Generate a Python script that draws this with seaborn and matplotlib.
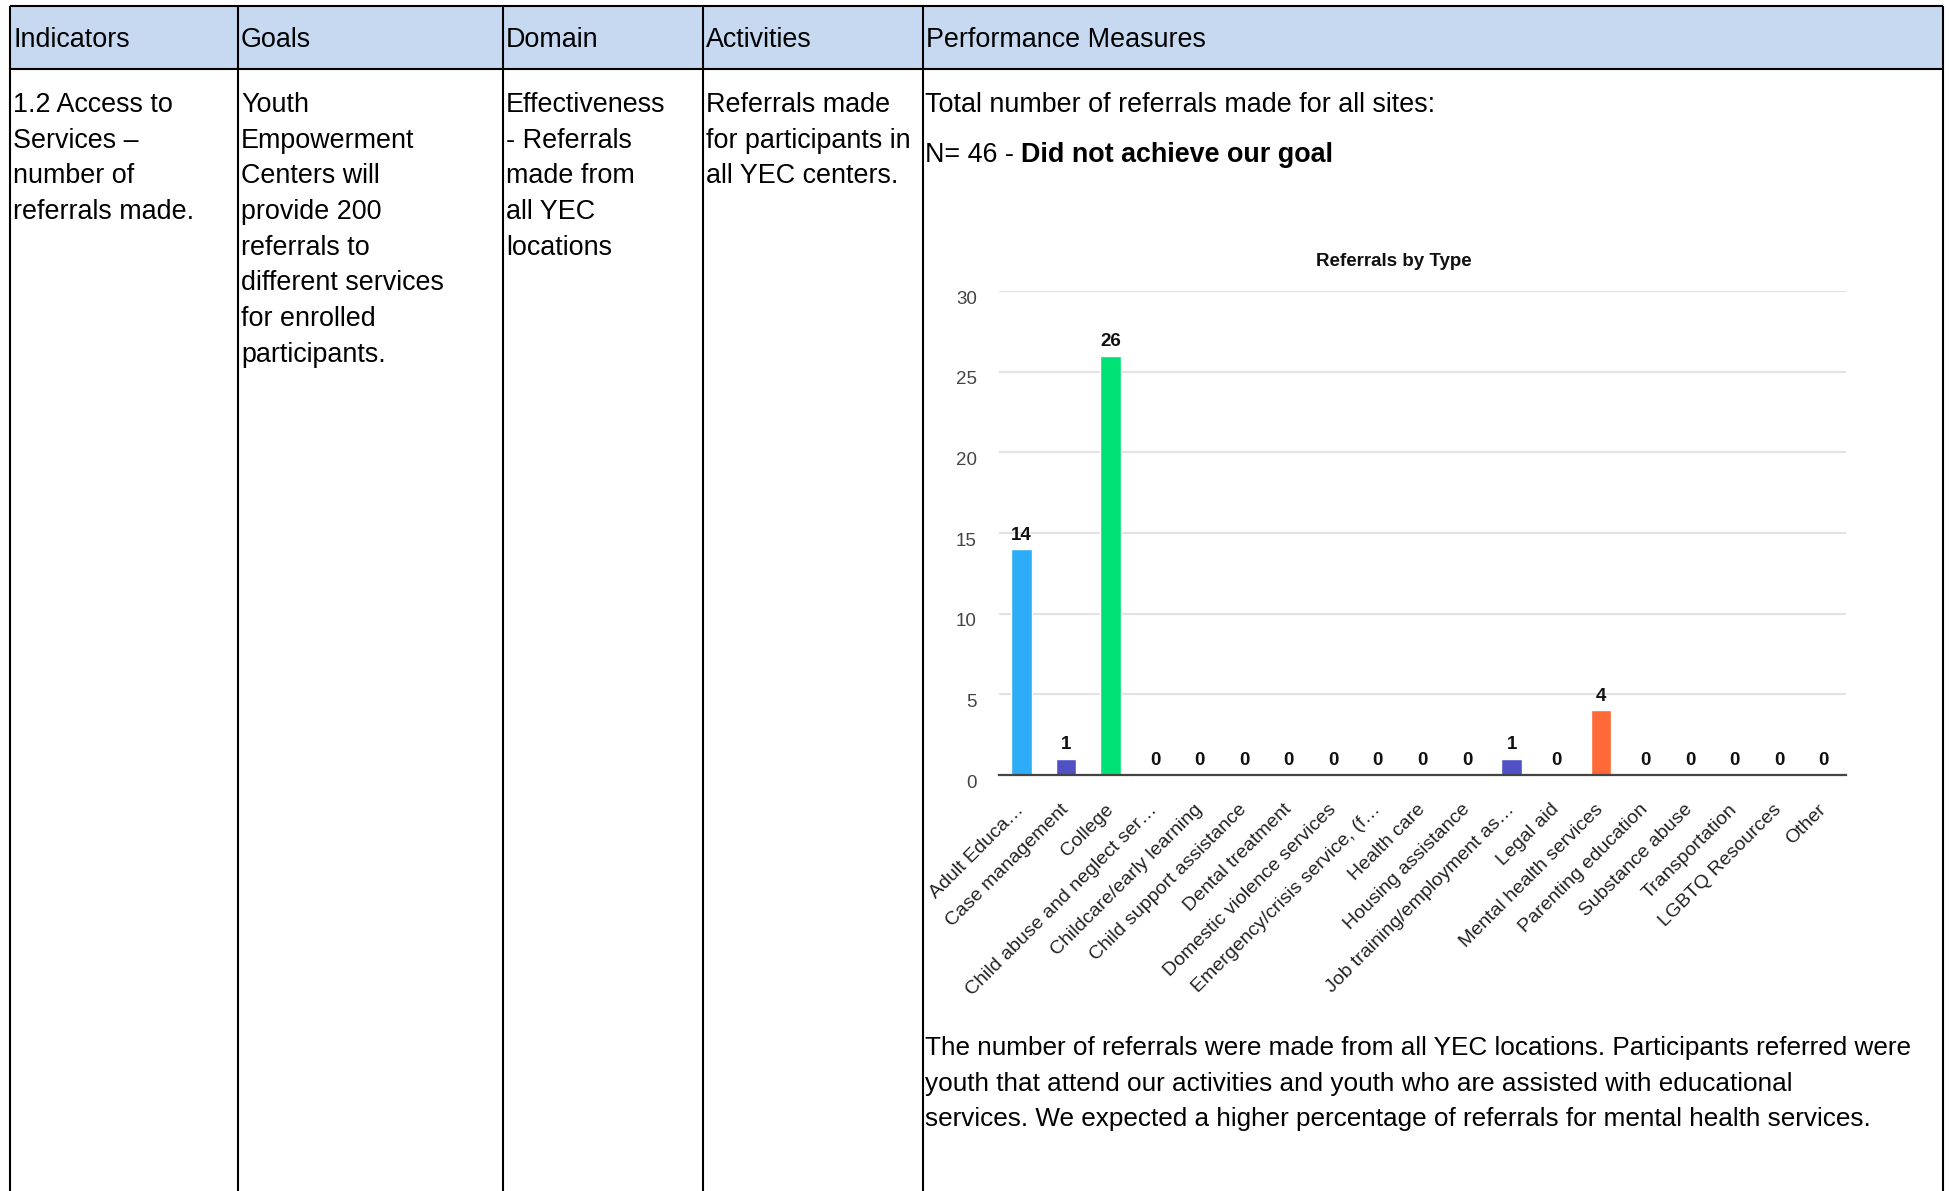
import matplotlib
matplotlib.use("Agg")
import matplotlib.pyplot as plt
import matplotlib.transforms as mtransforms
from matplotlib.patches import Rectangle
import seaborn as sns

# --- chart data ---
categories = [
    "Adult Educa…", "Case management", "College", "Child abuse and neglect ser…",
    "Childcare/early learning", "Child support assistance", "Dental treatment",
    "Domestic violence services", "Emergency/crisis service, (f…", "Health care",
    "Housing assistance", "Job training/employment as…", "Legal aid",
    "Mental health services", "Parenting education", "Substance abuse",
    "Transportation", "LGBTQ Resources", "Other",
]
referrals = [14, 1, 26, 0, 0, 0, 0, 0, 0, 0, 0, 1, 0, 4, 0, 0, 0, 0, 0]
bar_colors = [
    "#2DADF8", "#5151C6", "#00E273", "#F4B400", "#AB47BC", "#00ACC1", "#FF7043",
    "#9E9D24", "#5C6BC0", "#F06292", "#00796B", "#5151C6", "#C2185B",
    "#FF6A38", "#26A69A", "#7E57C2", "#8D6E63", "#78909C", "#EF5350",
]

# --- table text ---
headers = ["Indicators", "Goals", "Domain", "Activities", "Performance Measures"]
indicator_lines = ["1.2 Access to", "Services –", "number of", "referrals made."]
goal_lines = ["Youth", "Empowerment", "Centers will", "provide 200", "referrals to",
              "different services", "for enrolled", "participants."]
domain_lines = ["Effectiveness", "- Referrals", "made from", "all YEC", "locations"]
activity_lines = ["Referrals made", "for participants in", "all YEC centers."]
total_line = "Total number of referrals made for all sites:"
n_label = "N= 46 -"
goal_status = "Did not achieve our goal"
summary_lines = [
    "The number of referrals were made from all YEC locations. Participants referred were",
    "youth that attend our activities and youth who are assisted with educational",
    "services. We expected a higher percentage of referrals for mental health services.",
]
chart_title = "Referrals by Type"

sns.set_style("white")
plt.rcParams["font.family"] = ["Liberation Sans", "DejaVu Sans"]
plt.rcParams["text.color"] = "black"

W, H = 1950, 1191
fig = plt.figure(figsize=(W / 100, H / 100), dpi=100, facecolor="white")

# background layer in pixel coordinates for the table
bg = fig.add_axes([0, 0, 1, 1])
bg.set_xlim(0, W)
bg.set_ylim(H, 0)
bg.axis("off")

col_x = [10, 238, 503, 703, 923, 1943]
head_top, head_bot = 6, 69
bg.add_patch(Rectangle((col_x[0], head_top), col_x[-1] - col_x[0], head_bot - head_top,
                       facecolor="#C6D9F1", edgecolor="none"))
for x in col_x:
    bg.plot([x, x], [head_top, H], color="black", lw=1.5, solid_capstyle="butt")
for y in (head_top, head_bot):
    bg.plot([col_x[0], col_x[-1]], [y, y], color="black", lw=1.5, solid_capstyle="butt")

fs = 19.4
line_h = 35.7
for x, h in zip(col_x, headers):
    bg.text(x + 3, 47, h, fontsize=fs, va="baseline", ha="left")

for x, lines in zip(col_x, [indicator_lines, goal_lines, domain_lines, activity_lines]):
    for i, line in enumerate(lines):
        bg.text(x + 3, 112 + i * line_h, line, fontsize=fs, va="baseline", ha="left")

px = col_x[4] + 2
bg.text(px, 112, total_line, fontsize=fs, va="baseline", ha="left")
t1 = bg.text(px, 162, n_label, fontsize=fs, va="baseline", ha="left")
bg.annotate(goal_status, xy=(1, 0), xycoords=t1, xytext=(7, 0), textcoords="offset pixels",
            fontsize=fs, fontweight="bold", va="bottom", ha="left")
for i, line in enumerate(summary_lines):
    bg.text(px, 1055 + i * line_h, line, fontsize=18.8, va="baseline", ha="left")

bg.text(1394, 262, chart_title, fontsize=13.5, fontweight="bold", color="#111111",
        ha="center", va="center")

# chart axes: x 999..1846 px, y 0 at 775 px, 30 at 291 px
ax = fig.add_axes([999 / W, 1 - 775 / H, 847 / W, 484 / H])
ax.set_facecolor("none")
sns.barplot(x=categories, y=referrals, hue=categories, palette=bar_colors,
            width=0.46, saturation=1, legend=False, ax=ax, zorder=3)
for cont in ax.containers:
    ax.bar_label(cont, padding=4, fontsize=13.5, fontweight="bold", color="#111111")

ax.set_ylim(0, 30)
ax.set_xlim(-0.5, len(categories) - 0.5)
ax.set_yticks(range(0, 31, 5))
ax.yaxis.grid(True, color="#E3E3E3", lw=1.5, zorder=0)
ax.xaxis.grid(False)
for side in ("top", "right", "left"):
    ax.spines[side].set_visible(False)
ax.spines["bottom"].set_color("#444444")
ax.spines["bottom"].set_linewidth(1.6)
ax.spines["bottom"].set_zorder(4)

ax.tick_params(axis="y", length=0, pad=16, labelsize=13.5, labelcolor="#444444")
ax.tick_params(axis="x", length=0, pad=23, labelsize=14, labelcolor="#222222")
ax.set_xticks(range(len(categories)))
ax.set_xticklabels(categories)
plt.setp(ax.get_xticklabels(), rotation=45, ha="right", va="center", rotation_mode="anchor")
shift = mtransforms.ScaledTranslation(0, -6 / 100, fig.dpi_scale_trans)
for lbl in ax.get_yticklabels():
    lbl.set_transform(lbl.get_transform() + shift)
ax.set_xlabel("")
ax.set_ylabel("")

fig.savefig("out.png", dpi=100, facecolor="white")
plt.close(fig)
